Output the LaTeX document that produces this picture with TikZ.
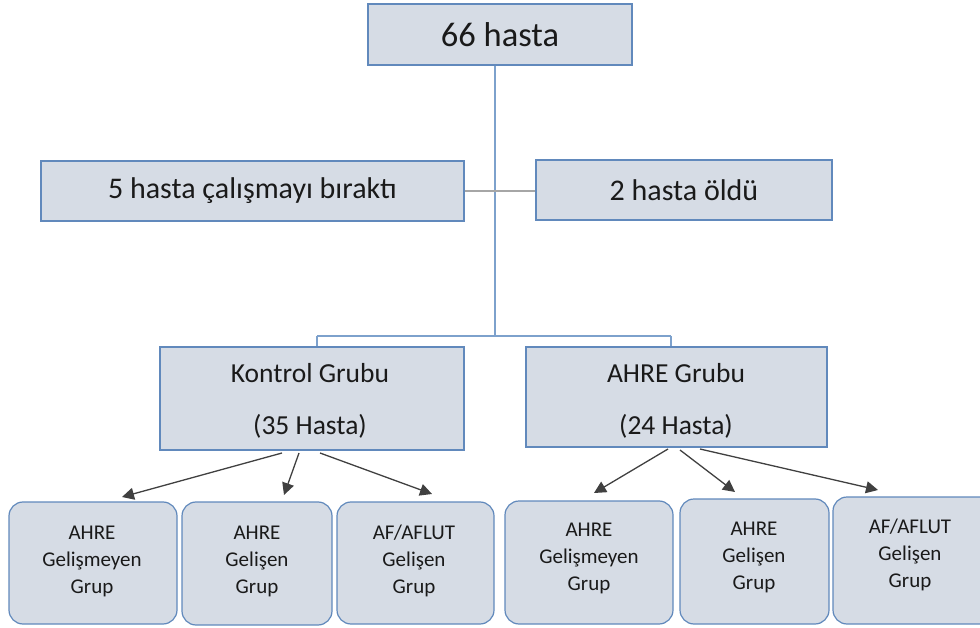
\documentclass[tikz,border=0pt]{standalone}
\usepackage{fontspec}
\setmainfont{Carlito}
\usetikzlibrary{arrows.meta}
\definecolor{boxfill}{HTML}{D6DCE5}
\definecolor{boxline}{HTML}{6189BC}
\definecolor{linkblue}{HTML}{7DA1CC}
\definecolor{txt}{HTML}{1A1A1A}
\begin{document}
\begin{tikzpicture}[x=1pt,y=-1pt,
  sqbox/.style={draw=boxline,fill=boxfill,line width=1.2pt,inner sep=0pt,text=txt},
  rbox/.style={draw=boxline,fill=boxfill,line width=1.2pt,rounded corners=14pt,inner sep=0pt},
  rtext/.style={text=txt,align=center,font=\fontsize{21}{27}\selectfont,inner sep=0pt},
  gtext/.style={font=\fontsize{27.5}{32}\selectfont,text=txt},
  link/.style={draw=linkblue,line width=1.6pt},
  arr/.style={draw=black!75,line width=1.3pt,-{Triangle[length=12pt,width=12pt]}}]
\useasboundingbox (0,0) rectangle (980,628);
% top boxes
\node[sqbox,minimum width=264pt,minimum height=61pt,font=\fontsize{34.5}{40}\selectfont] (top) at (500,34.5) {66 hasta};
\node[sqbox,minimum width=423pt,minimum height=60pt,font=\fontsize{30}{34}\selectfont] (left) at (252.5,191) {5 hasta çalışmayı bıraktı};
\node[sqbox,minimum width=296pt,minimum height=60pt,font=\fontsize{30}{34}\selectfont] (right) at (684,190) {2 hasta öldü};
% groups
\node[sqbox,minimum width=304pt,minimum height=103pt] (kontrol) at (312,398.5) {};
\node[gtext] (k1) at (310,373) {Kontrol Grubu};
\node[gtext] (k2) at (310,426) {(35 Hasta)};
\node[sqbox,minimum width=301pt,minimum height=100pt] (ahre) at (676.5,397) {};
\node[gtext] (a1) at (676,373) {AHRE Grubu};
\node[gtext] (a2) at (676,426) {(24 Hasta)};
% connectors
\coordinate (mid) at (495,336);
\coordinate (lj) at (317,336);
\coordinate (rj) at (671,336);
\draw[link] (top.south -| mid) -- (mid);
\draw[link] (lj) -- (rj);
\draw[link] (lj) -- (lj |- kontrol.north);
\draw[link] (rj) -- (rj |- ahre.north);
\draw[draw=black!35,line width=1.6pt] (left.east) -- (left.east -| right.west);
% bottom boxes
\node[rbox,minimum width=168pt,minimum height=122pt] (b1) at (93,563) {};
\node[rbox,minimum width=150pt,minimum height=123pt] (b2) at (257,563.5) {};
\node[rbox,minimum width=157pt,minimum height=122pt] (b3) at (415.5,563) {};
\node[rbox,minimum width=168pt,minimum height=123pt] (b4) at (589,562.5) {};
\node[rbox,minimum width=149pt,minimum height=125pt] (b5) at (754.5,561.5) {};
\node[rbox,minimum width=160pt,minimum height=127pt] (b6) at (913,560.5) {};
\node[rtext] (t1) at (92,561) {AHRE\\Gelişmeyen\\Grup};
\node[rtext] (t2) at (257,561) {AHRE\\Gelişen\\Grup};
\node[rtext] (t3) at (414,561) {AF/AFLUT\\Gelişen\\Grup};
\node[rtext] (t4) at (589,558) {AHRE\\Gelişmeyen\\Grup};
\node[rtext] (t5) at (754,557) {AHRE\\Gelişen\\Grup};
\node[rtext] (t6) at (910,555) {AF/AFLUT\\Gelişen\\Grup};
% arrows
\coordinate (k1s) at (282,453); \coordinate (k1e) at (122,497);
\coordinate (k2s) at (299,453); \coordinate (k2e) at (284,495);
\coordinate (k3s) at (320,453); \coordinate (k3e) at (432,494);
\coordinate (a1s) at (668,449); \coordinate (a1e) at (594,493);
\coordinate (a2s) at (680,450); \coordinate (a2e) at (735,492);
\coordinate (a3s) at (700,449); \coordinate (a3e) at (878,490);
\draw[arr] (k1s) -- (k1e);
\draw[arr] (k2s) -- (k2e);
\draw[arr] (k3s) -- (k3e);
\draw[arr] (a1s) -- (a1e);
\draw[arr] (a2s) -- (a2e);
\draw[arr] (a3s) -- (a3e);
\end{tikzpicture}
\end{document}
